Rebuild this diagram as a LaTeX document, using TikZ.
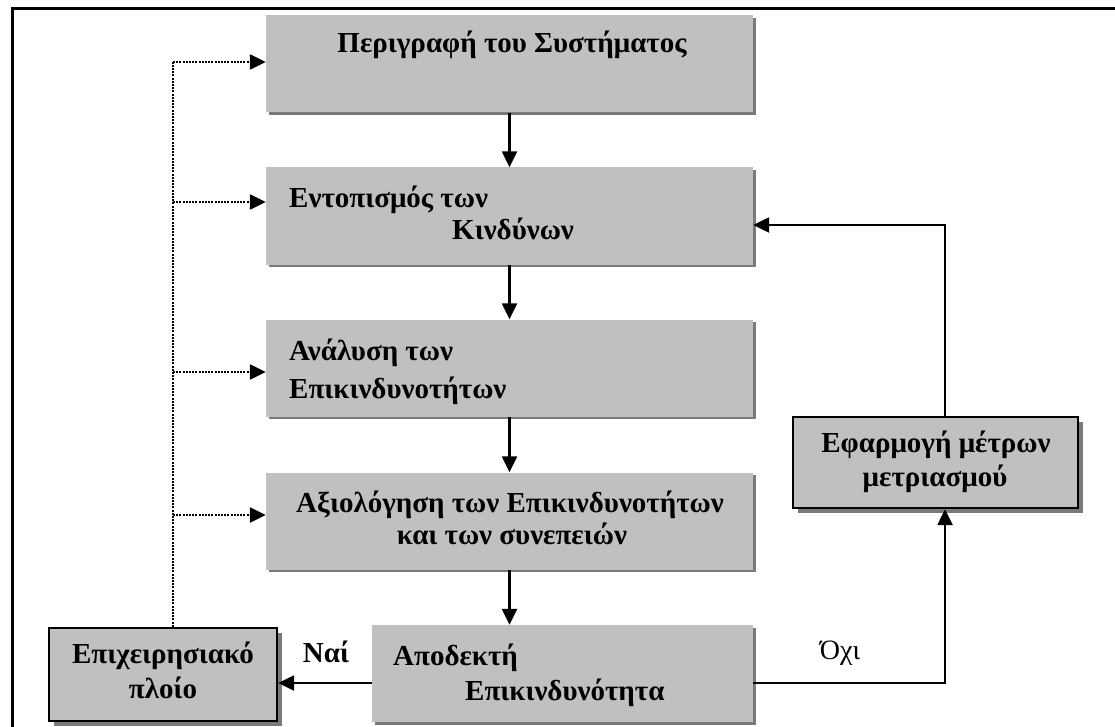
\documentclass[tikz,border=0pt]{standalone}
\usepackage{fontspec}
\setmainfont{Liberation Serif}
\usetikzlibrary{arrows.meta,shadows}

\definecolor{boxgray}{HTML}{C0C0C0}
\definecolor{edgegray}{HTML}{7A7A7A}

\tikzset{
  stage/.style={fill=boxgray, draw=none, inner sep=0pt,
    minimum height=97pt,
    drop shadow={shadow xshift=2.5pt, shadow yshift=-2.5pt, fill=edgegray, opacity=1}},
  sidebox/.style={fill=boxgray, draw=black, line width=2.4pt, inner sep=0pt,
    drop shadow={shadow xshift=5pt, shadow yshift=-5pt, fill=edgegray, opacity=1}},
  txt/.style={font=\bfseries\fontsize{29}{34}\selectfont, inner sep=0pt},
  lbl/.style={font=\fontsize{28}{34}\selectfont, inner sep=0pt},
  flow/.style={line width=2.4pt, -{Triangle[length=16pt,width=15pt]}},
  feedback/.style={line width=2.4pt, dash pattern=on 2pt off 1.2pt,
    -{Triangle[length=16pt,width=15pt]}},
  feedbackline/.style={line width=2.4pt, dash pattern=on 2pt off 1.2pt},
}

\begin{document}
\begin{tikzpicture}[x=1pt, y=-1pt]
\useasboundingbox (0,0) rectangle (1115,727);

% outer frame (top and left edges)
\draw[line width=3pt] (12,727) -- (12,9) -- (1115,9);

% main process boxes
\node[stage, minimum width=487pt] (b1) at (509.5,64)    {};
\node[stage, minimum width=487pt] (b2) at (509.5,216)   {};
\node[stage, minimum width=487pt] (b3) at (509.5,368)   {};
\node[stage, minimum width=487pt] (b4) at (509.5,521)   {};
\node[stage, minimum width=381pt] (b5) at (562.5,673.5) {};

% side boxes
\node[sidebox, minimum width=228pt, minimum height=93pt] (lb) at (163,674.5) {};
\node[sidebox, minimum width=285pt, minimum height=91pt] (rb) at (935.5,462.5) {};

% box texts
\node[txt, anchor=base] (t1) at (512,53) {Περιγραφή του Συστήματος};
\node[txt, anchor=base west] (t2a) at (289,208) {Εντοπισμός των};
\node[txt, anchor=base west] (t2b) at (452,240) {Κινδύνων};
\node[txt, anchor=base west] (t3a) at (289,360) {Ανάλυση των};
\node[txt, anchor=base west] (t3b) at (289,398) {Επικινδυνοτήτων};
\node[txt, anchor=base] (t4a) at (510,512) {Αξιολόγηση των Επικινδυνοτήτων};
\node[txt, anchor=base] (t4b) at (512,544) {και των συνεπειών};
\node[txt, anchor=base west] (t5a) at (393,665) {Αποδεκτή};
\node[txt, anchor=base west] (t5b) at (465,700) {Επικινδυνότητα};
\node[txt, anchor=base] (tla) at (163,663) {Επιχειρησιακό};
\node[txt, anchor=base] (tlb) at (163,698) {πλοίο};
\node[txt, anchor=base] (tra) at (936,452) {Εφαρμογή μέτρων};
\node[txt, anchor=base] (trb) at (935,486) {μετριασμού};

% branch labels
\node[txt] (yes) at (326,652) {Ναί};
\node[lbl] (no) at (840,653) {Όχι};

% helper coordinates for routing
\coordinate (xd) at (173,0);
\coordinate (xr) at (945,0);
\coordinate (ynai) at (0,683);
\coordinate (yk) at (0,225);
\coordinate (yd1) at (0,62);
\coordinate (yd2) at (0,202);
\coordinate (yd3) at (0,372);
\coordinate (yd4) at (0,515);

% main flow
\draw[flow] (b1.south) -- (b2.north);
\draw[flow] (b2.south) -- (b3.north);
\draw[flow] (b3.south) -- (b4.north);
\draw[flow] (b4.south) -- (b4.south |- b5.north);

% decision branches
\draw[flow] (b5.west |- ynai) -- (lb.east |- ynai);
\draw[flow] (b5.east |- ynai) -- (xr |- ynai) -- (rb.south -| xr);
\draw[flow] (rb.north -| xr) -- (xr |- yk) -- (b2.east |- yk);

% feedback from operating ship
\draw[feedbackline] (lb.north -| xd) -- (xd |- yd1);
\draw[feedback] (xd |- yd1) -- (b1.west |- yd1);
\draw[feedback] (xd |- yd2) -- (b2.west |- yd2);
\draw[feedback] (xd |- yd3) -- (b3.west |- yd3);
\draw[feedback] (xd |- yd4) -- (b4.west |- yd4);
\end{tikzpicture}
\end{document}
